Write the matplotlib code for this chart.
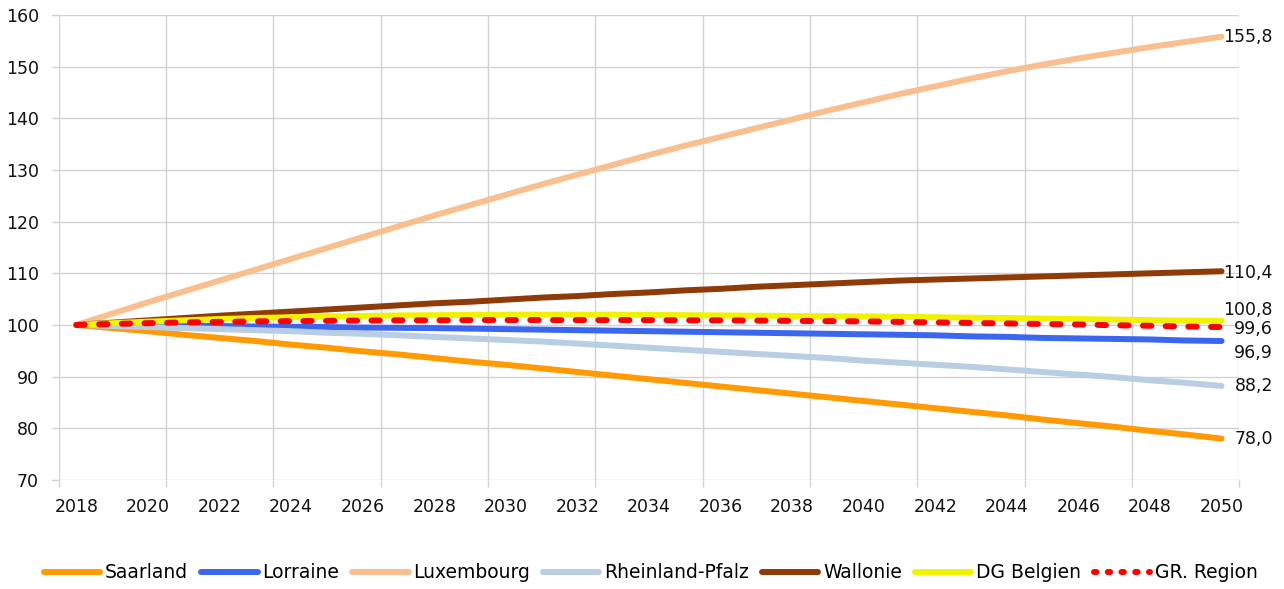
import matplotlib
matplotlib.use("Agg")
import matplotlib.pyplot as plt
from matplotlib.lines import Line2D
import numpy as np

# Population index (2018 = 100), yearly values 2018-2050
years = list(range(2018, 2051))

saarland = [100.0, 99.4, 98.8, 98.1, 97.5, 96.9, 96.2, 95.6, 94.9, 94.3, 93.6,
            92.9, 92.3, 91.6, 90.9, 90.2, 89.5, 88.8, 88.1, 87.4, 86.7, 86.0,
            85.3, 84.6, 83.9, 83.2, 82.5, 81.7, 81.0, 80.3, 79.5, 78.8, 78.0]

lorraine = [100.0, 99.95, 99.9, 99.85, 99.8, 99.7, 99.65, 99.6, 99.5, 99.45, 99.4,
            99.3, 99.2, 99.1, 99.0, 98.9, 98.8, 98.7, 98.6, 98.5, 98.4, 98.3,
            98.2, 98.1, 98.0, 97.8, 97.7, 97.5, 97.4, 97.3, 97.2, 97.0, 96.9]

luxembourg = [100.0, 102.2, 104.4, 106.5, 108.6, 110.7, 112.8, 114.9, 117.0, 119.1,
              121.2, 123.2, 125.2, 127.2, 129.1, 131.0, 132.9, 134.7, 136.4, 138.1,
              139.8, 141.5, 143.1, 144.7, 146.2, 147.7, 149.1, 150.4, 151.6, 152.7,
              153.8, 154.8, 155.8]

rheinland_pfalz = [100.0, 99.8, 99.6, 99.4, 99.2, 99.0, 98.8, 98.5, 98.3, 98.0, 97.7,
                   97.4, 97.1, 96.8, 96.4, 96.0, 95.6, 95.2, 94.8, 94.4, 94.0, 93.6,
                   93.1, 92.7, 92.3, 91.9, 91.4, 90.9, 90.4, 89.9, 89.3, 88.8, 88.2]

wallonie = [100.0, 100.45, 100.9, 101.35, 101.8, 102.2, 102.6, 103.0, 103.4, 103.8,
            104.2, 104.5, 104.9, 105.3, 105.6, 106.0, 106.3, 106.7, 107.0, 107.4,
            107.7, 108.0, 108.3, 108.6, 108.8, 109.0, 109.2, 109.4, 109.6, 109.8,
            110.0, 110.2, 110.4]

dg_belgien = [100.0, 100.35, 100.65, 100.9, 101.15, 101.35, 101.5, 101.65, 101.75,
              101.85, 101.9, 101.95, 102.0, 102.0, 102.0, 102.0, 101.95, 101.9,
              101.85, 101.8, 101.75, 101.7, 101.65, 101.6, 101.5, 101.4, 101.35,
              101.25, 101.15, 101.05, 100.95, 100.85, 100.8]

gr_region = [100.0, 100.2, 100.35, 100.5, 100.6, 100.7, 100.75, 100.8, 100.85, 100.9,
             100.9, 100.95, 100.95, 100.95, 100.95, 100.95, 100.95, 100.9, 100.9,
             100.85, 100.8, 100.75, 100.7, 100.6, 100.5, 100.4, 100.3, 100.2, 100.1,
             99.95, 99.85, 99.7, 99.6]

series_names = ["Saarland", "Lorraine", "Luxembourg", "Rheinland-Pfalz",
                "Wallonie", "DG Belgien", "GR. Region"]
series_values = [saarland, lorraine, luxembourg, rheinland_pfalz,
                 wallonie, dg_belgien, gr_region]
series_colors = ["#FF9A05", "#3A66F0", "#F9BF8F", "#B9CDE4",
                 "#8E3B08", "#F2F200", "#FF0000"]

# vertical shift (points, positive = up) of the end-value labels
label_dy = [0, -8.5, 0, 0, -1, 8, -1.5]

y_ticks = list(range(70, 161, 10))
x_tick_years = list(range(2018, 2051, 2))

plt.rcParams["font.family"] = ["DejaVu Sans"]

fig = plt.figure(figsize=(12.84, 5.89), dpi=100)
ax = fig.add_axes([0.0456, 0.1851, 0.9197, 0.7894])

grid_color = "#D2D2D2"
line_w = 4.3

for name, vals, col, dy in zip(series_names, series_values, series_colors, label_dy):
    if name == "GR. Region":
        ln, = ax.plot(years, vals, color=col, lw=line_w, solid_capstyle="round",
                      dash_capstyle="round", zorder=5)
        ln.set_dashes((1.4, 2.4))
    else:
        ax.plot(years, vals, color=col, lw=line_w, solid_capstyle="round", zorder=4)
    last = vals[-1]
    ax.annotate(f"{last:.1f}".replace(".", ","), xy=(years[-1], last),
                xytext=(37, dy), textcoords="offset points",
                ha="right", va="center", fontsize=12.5, color="#111111",
                annotation_clip=False)

ax.set_xlim(2017.5, 2050.5)
ax.set_ylim(70, 160)

# category-style axis: labels every 2 years, grid every 3 years
ax.set_xticks(x_tick_years)
ax.set_xticks(np.arange(2017.5, 2050.6, 3), minor=True)
ax.set_yticks(y_ticks)

ax.tick_params(axis="x", which="major", length=0, pad=13, labelsize=12.5,
               colors="#111111")
ax.tick_params(axis="x", which="minor", length=5, width=1.0, color=grid_color)
ax.tick_params(axis="y", which="major", length=5, width=1.0, color=grid_color,
               pad=9, labelsize=12.5, labelcolor="#111111")

ax.grid(False)
ax.xaxis.grid(True, which="minor", color=grid_color, lw=1.0)
ax.yaxis.grid(True, which="major", color=grid_color, lw=1.0)
ax.set_axisbelow(True)
for s in ax.spines.values():
    s.set_visible(False)

# legend handles
handles = []
for name, col in zip(series_names, series_colors):
    if name == "GR. Region":
        h = Line2D([], [], color=col, lw=line_w, dash_capstyle="round")
        h.set_dashes((0.4, 1.9))
    else:
        h = Line2D([], [], color=col, lw=line_w, solid_capstyle="round")
    handles.append(h)

fig.legend(handles, series_names, loc="center", ncol=7,
           bbox_to_anchor=(651 / 1284, 1 - 573 / 589), frameon=False,
           fontsize=13.5, handlelength=3.0, handletextpad=0.25,
           columnspacing=0.7, borderpad=0)

fig.savefig("out.png", dpi=100)
